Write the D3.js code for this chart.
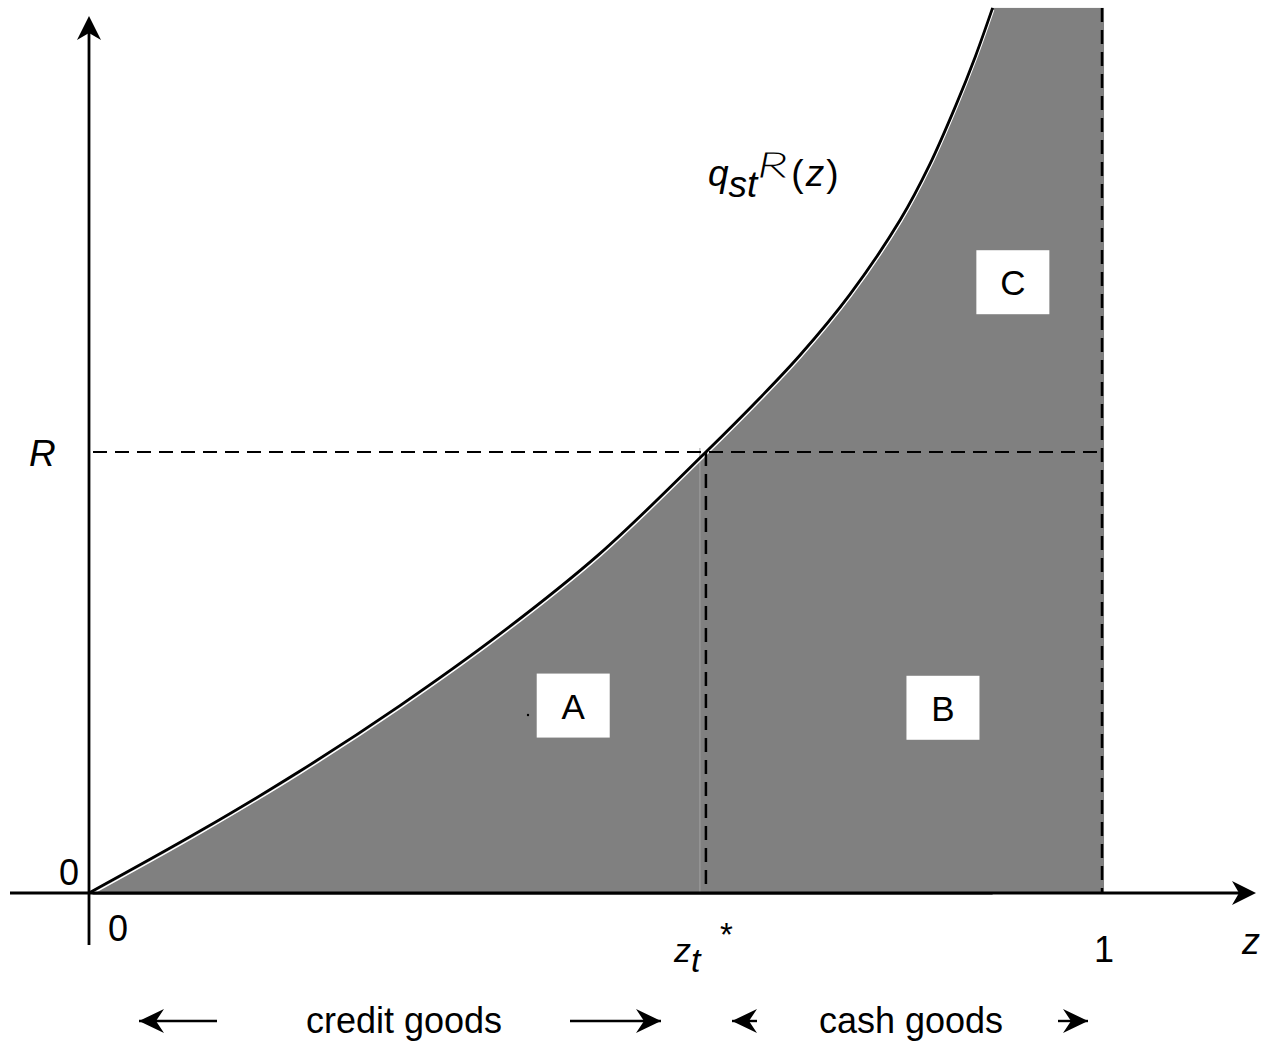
<!DOCTYPE html>
<html><head><meta charset="utf-8">
<script src="https://cdn.jsdelivr.net/npm/d3@7"></script>
<style>body{margin:0;background:#fff}svg{display:block}text{font-family:"Liberation Sans",Arial,sans-serif;fill:#000}</style>
</head><body>
<script>
// ---- data ----
const zValues = [0, 0.110, 0.208, 0.307, 0.406, 0.504, 0.609, 0.662, 0.702, 0.751, 0.801, 0.830, 0.855, 0.875, 0.892];
const rValues = [0, 0.141, 0.276, 0.425, 0.588, 0.769, 1.000, 1.122, 1.220, 1.357, 1.527, 1.652, 1.782, 1.897, 2.007];
const zStar = 0.609;
const Rlevel = 1.0;
const zMax = 1.0;
const rTop = 2.007;
const regionLabels = ["A", "B", "C"];
const regionCenters = [[0.478, 0.425], [0.843, 0.420], [0.912, 1.385]];
const bottomLabels = ["credit goods", "cash goods"];

const W = 1282, H = 1044;
const svg = d3.select("body").append("svg").attr("width", W).attr("height", H);
svg.append("rect").attr("width", W).attr("height", H).attr("fill", "#fff");

const x = d3.scaleLinear().domain([0, 1]).range([89, 1102]);
const y = d3.scaleLinear().domain([0, 1]).range([893, 452]);

const pts = zValues.map((z, i) => [z, rValues[i]]);
const curveType = d3.curveCatmullRom.alpha(0.5);
const line = d3.line().x(d => x(d[0])).y(d => y(d[1])).curve(curveType);

// fill region
const areaGen = d3.area().x(d => x(d[0])).y0(y(0)).y1(d => y(d[1])).curve(curveType);
svg.append("path").attr("d", areaGen(pts)).attr("fill", "#808080").attr("transform", "translate(0,2)");
svg.append("rect").attr("x", x(zValues[zValues.length - 1]) - 1).attr("y", y(rTop))
  .attr("width", x(zMax + 0.002) - x(zValues[zValues.length - 1]) + 1).attr("height", y(0) - y(rTop)).attr("fill", "#808080");

// light vertical line
svg.append("line").attr("x1", x(zStar) - 6).attr("x2", x(zStar) - 6).attr("y1", y(Rlevel) - 4).attr("y2", y(0))
  .attr("stroke", "#a0a0a0").attr("stroke-width", 1);

// white thin line under curve
svg.append("path").attr("d", line(pts)).attr("fill", "none").attr("stroke", "#fff").attr("stroke-width", 1.5).attr("transform", "translate(1,2)");
// curve
svg.append("path").attr("d", line(pts)).attr("fill", "none").attr("stroke", "#000").attr("stroke-width", 2.8);

// dashed lines
const dash = "14,8";
svg.append("line").attr("x1", x(0)).attr("x2", x(zMax)).attr("y1", y(Rlevel)).attr("y2", y(Rlevel))
  .attr("stroke", "#000").attr("stroke-width", 2).attr("stroke-dasharray", dash).attr("stroke-dashoffset", -4);
svg.append("line").attr("x1", x(zStar)).attr("x2", x(zStar)).attr("y1", y(Rlevel)).attr("y2", y(0))
  .attr("stroke", "#000").attr("stroke-width", 2.5).attr("stroke-dasharray", dash);
svg.append("line").attr("x1", x(zMax)).attr("x2", x(zMax)).attr("y1", y(rTop)).attr("y2", y(0))
  .attr("stroke", "#000").attr("stroke-width", 2.5).attr("stroke-dasharray", dash);

// axes
svg.append("line").attr("x1", 10).attr("x2", 1240).attr("y1", y(0)).attr("y2", y(0)).attr("stroke", "#000").attr("stroke-width", 2.8);
svg.append("line").attr("x1", x(0)).attr("x2", x(0)).attr("y1", 945).attr("y2", 30).attr("stroke", "#000").attr("stroke-width", 2.8);
svg.append("path").attr("d", `M${x(0)},16 L${x(0) + 12},40 L${x(0)},33 L${x(0) - 12},40 Z`).attr("fill", "#000");
svg.append("path").attr("d", `M1256,${y(0)} L1232,${y(0) - 12} L1239,${y(0)} L1232,${y(0) + 12} Z`).attr("fill", "#000");

// region boxes
const boxW = 73, boxH = 64;
regionLabels.forEach((l, i) => {
  const cx = x(regionCenters[i][0]), cy = y(regionCenters[i][1]);
  svg.append("rect").attr("x", cx - boxW / 2).attr("y", cy - boxH / 2).attr("width", boxW).attr("height", boxH).attr("fill", "#fff");
  svg.append("text").attr("x", cx).attr("y", cy + 13).attr("text-anchor", "middle").attr("font-size", 35).text(l);
});
svg.append("circle").attr("cx", 528).attr("cy", 715).attr("r", 1.2).attr("fill", "#000");

// axis labels
svg.append("text").attr("x", 79).attr("y", 885).attr("text-anchor", "end").attr("font-size", 36).text("0");
svg.append("text").attr("x", 108).attr("y", 941).attr("font-size", 36).text("0");
svg.append("text").attr("x", 1104).attr("y", 962).attr("text-anchor", "middle").attr("font-size", 36).text("1");
svg.append("text").attr("x", 1242).attr("y", 954).attr("font-size", 36).attr("font-style", "italic").text("z");
svg.append("text").attr("x", 29).attr("y", 466).attr("font-size", 37).attr("font-style", "italic").text("R");

// z_t*
const zt = svg.append("text").attr("x", 674).attr("y", 962).attr("font-size", 34).attr("font-style", "italic");
zt.append("tspan").text("z");
zt.append("tspan").attr("dy", 10).text("t");
svg.append("text").attr("x", 720).attr("y", 946).attr("font-size", 33).text("*");

// curve label
const ql = svg.append("text").attr("x", 708).attr("y", 186).attr("font-size", 37).attr("font-style", "italic");
ql.append("tspan").text("q");
ql.append("tspan").attr("dy", 11).text("st");
ql.append("tspan").attr("dy", -20).attr("dx", 0).attr("font-size", 33).attr("font-weight", 100).attr("fill", "none").attr("stroke", "#000").attr("stroke-width", 1).style("font-family", "Lato, 'Liberation Sans'").attr("textLength", 30).attr("lengthAdjust", "spacingAndGlyphs").text("R");
ql.append("tspan").attr("dy", 9).attr("dx", 4).attr("font-style", "normal").text("(");
ql.append("tspan").attr("dx", 2).text("z");
ql.append("tspan").attr("dx", 2).attr("font-style", "normal").text(")");

// bottom arrows
function arrow(x1, x2, yy) {
  svg.append("line").attr("x1", x1).attr("x2", x2).attr("y1", yy).attr("y2", yy).attr("stroke", "#000").attr("stroke-width", 2.4);
  const dir = Math.sign(x2 - x1);
  svg.append("path").attr("d", `M${x2},${yy} L${x2 - dir * 25},${yy - 12} L${x2 - dir * 17},${yy} L${x2 - dir * 25},${yy + 12} Z`).attr("fill", "#000");
}
arrow(217, 139, 1021);
arrow(570, 661, 1021);
arrow(757, 732, 1021);
arrow(1058, 1088, 1021);
svg.append("text").attr("x", 404).attr("y", 1033).attr("text-anchor", "middle").attr("font-size", 36).text(bottomLabels[0]);
svg.append("text").attr("x", 911).attr("y", 1033).attr("text-anchor", "middle").attr("font-size", 36).text(bottomLabels[1]);
</script>
</body></html>
